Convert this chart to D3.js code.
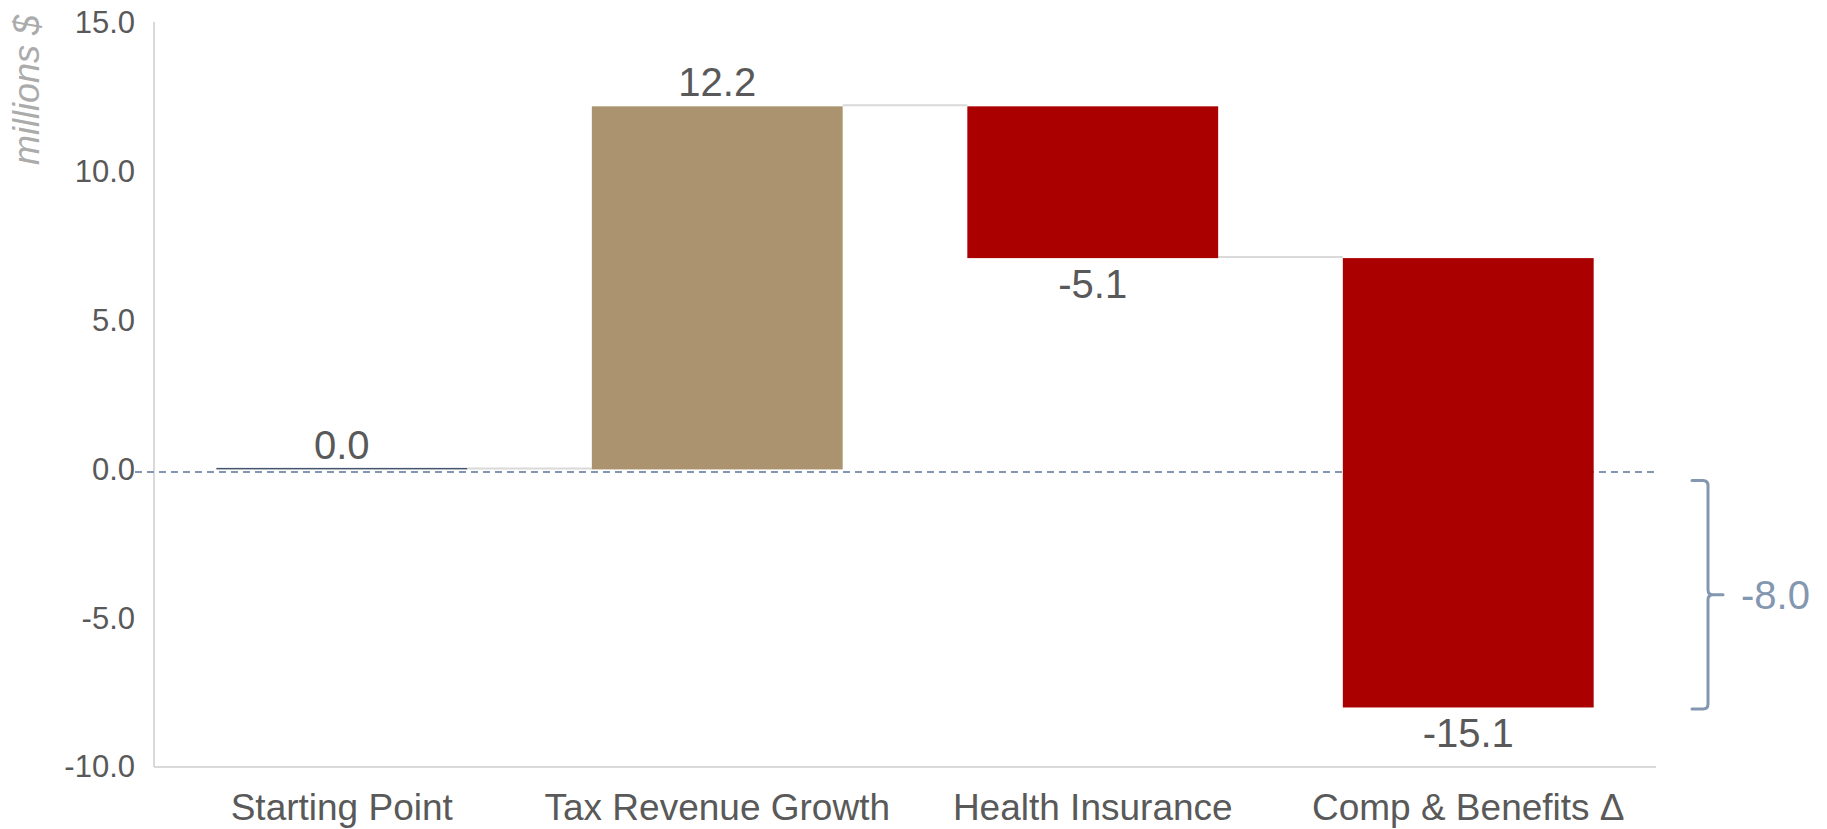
<!DOCTYPE html>
<html>
<head>
<meta charset="utf-8">
<script src="https://cdn.jsdelivr.net/npm/d3@7"></script>
<style>
  html, body { margin: 0; padding: 0; background: #fff; }
  svg { display: block; font-family: "Liberation Sans", Arial, Helvetica, sans-serif; }
</style>
</head>
<body>
<svg id="chart" width="1827" height="829"></svg>
<script>
// Waterfall steps (millions $)
const categories = ["Starting Point", "Tax Revenue Growth", "Health Insurance", "Comp & Benefits \u0394"];
const values = [0.0, 12.2, -5.1, -15.1];
const kinds = ["total", "increase", "decrease", "decrease"];
const yTicks = [-10, -5, 0, 5, 10, 15];
const yDomain = [-10, 15];
const yTitle = "millions $";

const colors = { total: "#44546A", increase: "#AB9370", decrease: "#AA0000" };
const textGray = "#595959";
const accent = "#8497B0";
const axisGray = "#D9D9D9";

// one decimal, plain hyphen for negatives
const fmt = d3.formatLocale({ decimal: ".", thousands: ",", grouping: [3], currency: ["$", ""], minus: "-" }).format(".1f");

const svg = d3.select("#chart");
const plot = { left: 154, right: 1656, top: 23, bottom: 767 };

const x = d3.scaleBand()
  .domain(categories)
  .range([plot.left, plot.right])
  .paddingInner(0.332)
  .paddingOuter(0.166);

const y = d3.scaleLinear()
  .domain(yDomain)
  .range([plot.bottom, plot.top]);

// running totals for each step
let running = 0;
const steps = categories.map((c, i) => {
  const start = kinds[i] === "total" ? 0 : running;
  const end = kinds[i] === "total" ? values[i] : running + values[i];
  running = end;
  return { cat: c, value: values[i], kind: kinds[i], start, end };
});
const net = running;

// axes lines
svg.append("line")
  .attr("x1", plot.left).attr("x2", plot.left)
  .attr("y1", plot.top - 1).attr("y2", plot.bottom)
  .attr("stroke", axisGray).attr("stroke-width", 2);
svg.append("line")
  .attr("x1", plot.left).attr("x2", plot.right)
  .attr("y1", plot.bottom).attr("y2", plot.bottom)
  .attr("stroke", axisGray).attr("stroke-width", 2);

// y axis labels
const yAxis = d3.axisLeft(y)
  .tickValues(yTicks)
  .tickSize(0)
  .tickPadding(19)
  .tickFormat(fmt);
const gy = svg.append("g")
  .attr("transform", `translate(${plot.left},0)`)
  .call(yAxis);
gy.select(".domain").remove();
gy.selectAll("text")
  .attr("fill", textGray)
  .style("font-size", "31px")
  .style("font-family", "'Liberation Sans', Arial, sans-serif");

// y axis title
svg.append("text")
  .attr("transform", "translate(39,15) rotate(-90)")
  .attr("text-anchor", "end")
  .attr("fill", "#ABABAB")
  .style("font-size", "36px")
  .style("font-style", "italic")
  .text(yTitle);

// x axis category labels
const xAxis = d3.axisBottom(x).tickSize(0).tickPadding(0);
const gx = svg.append("g")
  .attr("transform", `translate(0,${plot.bottom})`)
  .call(xAxis);
gx.select(".domain").remove();
gx.selectAll("text")
  .attr("fill", textGray)
  .attr("dy", null)
  .attr("y", 53)
  .style("font-size", "37px")
  .style("font-family", "'Liberation Sans', Arial, sans-serif");

// zero reference line
svg.append("line")
  .attr("x1", plot.left - 19).attr("x2", plot.right)
  .attr("y1", y(0) + 2.5).attr("y2", y(0) + 2.5)
  .attr("stroke", accent).attr("stroke-width", 2)
  .attr("stroke-dasharray", "7,5");

// connectors between consecutive steps
svg.selectAll("line.connector")
  .data(steps.slice(0, -1))
  .join("line")
  .attr("class", "connector")
  .attr("x1", (d) => x(d.cat) + x.bandwidth())
  .attr("x2", (d, i) => x(steps[i + 1].cat))
  .attr("y1", (d) => y(d.end) - 1)
  .attr("y2", (d) => y(d.end) - 1)
  .attr("stroke", axisGray).attr("stroke-width", 2);

// bars
svg.selectAll("rect.bar")
  .data(steps)
  .join("rect")
  .attr("class", "bar")
  .attr("x", (d) => x(d.cat))
  .attr("width", x.bandwidth())
  .attr("y", (d) => {
    const top = y(Math.max(d.start, d.end));
    return d.kind === "total" && d.start === d.end ? top - 1.5 : top;
  })
  .attr("height", (d) => Math.max(1.5, Math.abs(y(d.start) - y(d.end))))
  .attr("fill", (d) => colors[d.kind]);

// value labels
svg.selectAll("text.value")
  .data(steps)
  .join("text")
  .attr("class", "value")
  .attr("x", (d) => x(d.cat) + x.bandwidth() / 2)
  .attr("y", (d) => d.value >= 0
    ? y(Math.max(d.start, d.end)) - 10
    : y(Math.min(d.start, d.end)) + 40)
  .attr("text-anchor", "middle")
  .attr("fill", textGray)
  .style("font-size", "40px")
  .text((d) => fmt(d.value));

// net change bracket
const bTop = y(0) + 11;
const bBot = y(net) + 1.5;
const bMid = (bTop + bBot) / 2;
const bx = plot.right + 52;
const r = 5;
const bracket = d3.path();
bracket.moveTo(bx - 16, bTop);
bracket.lineTo(bx - r, bTop);
bracket.quadraticCurveTo(bx, bTop, bx, bTop + r);
bracket.lineTo(bx, bMid - r);
bracket.quadraticCurveTo(bx, bMid, bx + r, bMid);
bracket.lineTo(bx + 15, bMid);
bracket.moveTo(bx + r, bMid);
bracket.quadraticCurveTo(bx, bMid, bx, bMid + r);
bracket.lineTo(bx, bBot - r);
bracket.quadraticCurveTo(bx, bBot, bx - r, bBot);
bracket.lineTo(bx - 16, bBot);
svg.append("path")
  .attr("d", bracket.toString())
  .attr("fill", "none")
  .attr("stroke", accent)
  .attr("stroke-width", 3)
  .attr("stroke-linecap", "round");

svg.append("text")
  .attr("x", bx + 33)
  .attr("y", bMid + 14)
  .attr("fill", accent)
  .style("font-size", "40px")
  .text(fmt(net));
</script>
</body>
</html>
